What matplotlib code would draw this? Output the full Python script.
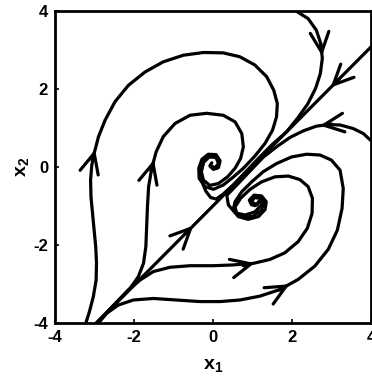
import numpy as np
import matplotlib
matplotlib.use('Agg')
import matplotlib.pyplot as plt

plt.rcParams['font.family'] = ['Liberation Sans', 'DejaVu Sans']
plt.rcParams['mathtext.fontset'] = 'custom'
plt.rcParams['mathtext.bf'] = 'Liberation Sans:bold'
plt.rcParams['mathtext.rm'] = 'Liberation Sans'

# ---- data ----
# stable manifold of the saddle
m_x = [-2.95, 4.0]
m_y = [-4.0, 3.08]

# outer left trajectory (A)
a_x = [-3.22, -3.13, -3.03, -2.96, -2.95, -2.97, -3.01, -3.05, -3.09, -3.10, -3.07, -3.00, -2.90, -2.73, -2.48,
       -2.14, -1.72, -1.26, -0.75, -0.24, 0.26, 0.68, 1.06, 1.36, 1.54, 1.63, 1.61, 1.51, 1.32, 1.06,
       0.77, 0.51, 0.26, 0.01, -0.20, -0.35, -0.36, -0.28, -0.12, 0.08, 0.18, 0.14, 0.01, -0.08, -0.03]
a_y = [-4.0, -3.71, -3.32, -2.90, -2.47, -2.04, -1.62, -1.19, -0.76, -0.33, 0.05, 0.39, 0.78, 1.21, 1.68,
       2.10, 2.44, 2.70, 2.87, 2.94, 2.93, 2.83, 2.62, 2.32, 1.97, 1.63, 1.29, 0.95, 0.61, 0.28,
       -0.03, -0.26, -0.46, -0.57, -0.50, -0.29, -0.03, 0.20, 0.33, 0.32, 0.16, -0.01, -0.06, 0.03, 0.11]

# inner left trajectory (B)
b_x = [-2.95, -2.10, -1.89, -1.76, -1.70, -1.68, -1.66, -1.63, -1.55, -1.44, -1.26, -0.96, -0.58, -0.16, 0.26,
       0.56, 0.73, 0.77, 0.70, 0.56, 0.37, 0.14, -0.08, -0.245, -0.30, -0.23, -0.08, 0.09, 0.14, 0.05, -0.05]
b_y = [-4.0, -3.11, -2.81, -2.47, -2.04, -1.53, -1.02, -0.50, -0.03, 0.39, 0.78, 1.12, 1.33, 1.38, 1.33,
       1.16, 0.86, 0.52, 0.22, -0.03, -0.25, -0.42, -0.47, -0.33, -0.09, 0.15, 0.28, 0.25, 0.09, -0.02, 0.03]

# trajectory entering from the top edge
t_x = [2.14, 2.41, 2.62, 2.73, 2.77, 2.72, 2.60, 2.40, 2.14, 1.86, 1.50, 1.15, 0.83, 0.52, 0.25, 0.08,
       -0.06, -0.18, -0.27, -0.30, -0.24, -0.10, 0.07, 0.15, 0.10, -0.01]
t_y = [3.98, 3.81, 3.51, 3.17, 2.79, 2.40, 2.02, 1.62, 1.25, 0.90, 0.58, 0.22, -0.12, -0.45, -0.70, -0.82,
       -0.78, -0.62, -0.40, -0.14, 0.12, 0.26, 0.25, 0.10, -0.03, 0.00]

# trajectory entering from the right edge
r_x = [3.99, 3.81, 3.55, 3.22, 2.92, 2.62, 2.29, 1.95, 1.61, 1.27, 0.94, 0.66, 0.45, 0.35, 0.39, 0.56,
       0.81, 1.06, 1.23, 1.19, 1.04, 0.98, 1.09]
r_y = [0.69, 0.86, 0.99, 1.08, 1.09, 1.05, 0.93, 0.76, 0.52, 0.25, -0.10, -0.40, -0.62, -0.72, -0.97, -1.17,
       -1.23, -1.15, -0.97, -0.80, -0.78, -0.91, -0.95]

# inner lower trajectory (C)
c_x = [-2.95, -2.14, -1.85, -1.51, -1.09, -0.58, 0.01, 0.51, 1.02, 1.44, 1.82, 2.16, 2.39, 2.51, 2.52,
       2.41, 2.20, 1.91, 1.57, 1.23, 0.94, 0.70, 0.56, 0.60, 0.77, 1.02, 1.23, 1.29, 1.19, 1.02, 0.95, 1.06, 1.15]
c_y = [-4.0, -3.15, -2.90, -2.68, -2.57, -2.53, -2.53, -2.51, -2.47, -2.37, -2.20, -1.91, -1.57, -1.19, -0.80,
       -0.50, -0.32, -0.23, -0.25, -0.38, -0.57, -0.80, -1.02, -1.19, -1.29, -1.26, -1.10, -0.91, -0.78, -0.78,
       -0.91, -0.99, -0.91]

# outer lower trajectory (D)
d_x = [-2.90, -2.69, -2.40, -2.02, -1.51, -0.92, -0.33, 0.18, 0.68, 1.19, 1.70, 2.16, 2.58, 2.92, 3.15,
       3.27, 3.30, 3.22, 3.00, 2.71, 2.37, 1.99, 1.61, 1.27, 0.98, 0.73, 0.56, 0.51, 0.64, 0.89,
       1.15, 1.32, 1.35, 1.23, 1.04, 0.92, 0.98, 1.12, 1.16]
d_y = [-4.0, -3.75, -3.54, -3.41, -3.37, -3.41, -3.45, -3.45, -3.41, -3.31, -3.14, -2.88, -2.54, -2.11, -1.62,
       -1.06, -0.55, -0.08, 0.18, 0.31, 0.33, 0.26, 0.09, -0.12, -0.38, -0.63, -0.89, -1.10, -1.27, -1.34,
       -1.27, -1.09, -0.89, -0.74, -0.72, -0.85, -0.97, -0.97, -0.88]

# arrow positions (x, y, direction along the stored point order)
arrows_m = [(-0.50, -1.50, 1), (3.00, 2.02, -1)]
arrow_a = (-2.99, 0.45, 1)
arrow_b = (-1.50, 0.19, 1)
arrow_t = (2.77, 2.85, 1)
arrow_r = (2.71, 1.08, 1)
arrow_c = (1.06, -2.47, 1)
arrow_d = (1.95, -3.03, 1)

x_ticks = [-4, -2, 0, 2, 4]
y_ticks = [-4, -2, 0, 2, 4]

# ---- drawing ----
fig = plt.figure(figsize=(3.72, 3.85), dpi=100)
ax = fig.add_axes([0.148, 0.161, 0.849, 0.81])

LW = 2.3


def add_arrow(xs, ys, spec):
    px, py, sgn = spec
    pts = np.column_stack([xs, ys]).astype(float)
    p = np.array([px, py])
    best = None
    for i in range(len(pts) - 1):
        a, b = pts[i], pts[i + 1]
        d = b - a
        L2 = d @ d
        if L2 == 0:
            continue
        t = np.clip((p - a) @ d / L2, 0, 1)
        q = a + t * d
        dist = np.linalg.norm(q - p)
        if best is None or dist < best[0]:
            best = (dist, q, d / np.sqrt(L2))
    _, q, u = best
    u = u * sgn
    tail = q - 0.3 * u
    ax.annotate('', xy=q, xytext=tail,
                arrowprops=dict(arrowstyle='->,head_length=0.9,head_width=0.42',
                                lw=LW, color='k', shrinkA=0, shrinkB=0,
                                mutation_scale=16))


curves = [(m_x, m_y, arrows_m), (a_x, a_y, [arrow_a]), (b_x, b_y, [arrow_b]),
          (t_x, t_y, [arrow_t]), (r_x, r_y, [arrow_r]), (c_x, c_y, [arrow_c]),
          (d_x, d_y, [arrow_d])]

for xs, ys, arrs in curves:
    ax.plot(xs, ys, color='k', lw=LW, solid_joinstyle='round', solid_capstyle='round')
    for spec in arrs:
        add_arrow(xs, ys, spec)

ax.set_xlim(-4, 4)
ax.set_ylim(-4, 4)
ax.set_xticks(x_ticks)
ax.set_yticks(y_ticks)
ax.set_xticklabels([str(v) for v in x_ticks])
ax.set_yticklabels([str(v) for v in y_ticks])
ax.tick_params(direction='in', length=3, width=1.2, labelsize=12, pad=5)
for lab in ax.get_xticklabels() + ax.get_yticklabels():
    lab.set_fontweight('bold')
for sp in ax.spines.values():
    sp.set_linewidth(2.0)

ax.set_xlabel(r'$\mathbf{x_1}$', fontsize=14, labelpad=9)
ax.set_ylabel(r'$\mathbf{x_2}$', fontsize=14, labelpad=2)

fig.savefig('out.png', dpi=100, facecolor='white')
